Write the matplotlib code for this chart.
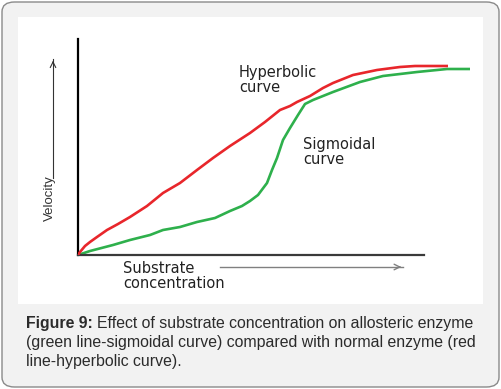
import matplotlib.pyplot as plt
from matplotlib.patches import FancyBboxPatch, Rectangle

# substrate concentration (arbitrary units) and velocity for each curve
hyper_s = [0, 2, 7, 12, 19, 29, 40, 52, 69, 85, 102, 119, 135, 152, 172, 187,
           202, 212, 219, 232, 245, 255, 275, 299, 322, 337, 352, 370]
hyper_v = [0, 3, 9, 13, 18, 25, 31, 38, 49, 62, 72, 85, 97, 109, 122, 133,
           145, 149, 153, 159, 167, 172, 180, 185, 188, 189, 189, 189]

sigm_s = [0, 12, 35, 52, 72, 85, 102, 119, 137, 152, 164, 172, 180, 189, 194,
          199, 205, 212, 220, 227, 235, 255, 282, 305, 339, 369, 392]
sigm_v = [0, 4, 10, 15, 20, 25, 28, 33, 37, 44, 49, 54, 60, 72, 85, 97, 115,
          127, 140, 151, 155, 163, 173, 179, 183, 186, 186]

x_axis_end = 346

W, H = 501, 389
fig = plt.figure(figsize=(W / 100, H / 100), dpi=100)
fig.patch.set_facecolor("white")


def fx(px):
    return px / W


def fy(py):
    return 1 - py / H


# outer rounded frame + white panel (behind the axes)
frame = FancyBboxPatch((fx(2), fy(387)), fx(497), 385 / H,
                       boxstyle="round,pad=0,rounding_size=0.025",
                       transform=fig.transFigure, facecolor="#f2f2f2",
                       edgecolor="#8a8a8a", linewidth=1.0, zorder=-2)
fig.patches.append(frame)
fig.patches.append(Rectangle((fx(18), fy(304)), fx(465), 287 / H,
                             transform=fig.transFigure, facecolor="white",
                             edgecolor="none", zorder=-1))

ax = fig.add_axes([fx(78), fy(255), fx(402), 216 / H])
ax.patch.set_alpha(0)
ax.set_xlim(0, 402)
ax.set_ylim(0, 216)
ax.plot(hyper_s, hyper_v, color="#e8262b", lw=1.9, solid_capstyle="butt", zorder=3)
ax.plot(sigm_s, sigm_v, color="#2eb04c", lw=1.9, solid_capstyle="butt", zorder=2)

for s in ["top", "right"]:
    ax.spines[s].set_visible(False)
ax.spines["left"].set_linewidth(1.6)
ax.spines["left"].set_color("black")
ax.spines["bottom"].set_linewidth(1.6)
ax.spines["bottom"].set_color("#3a3a3a")
ax.spines["bottom"].set_bounds(0, x_axis_end)
ax.set_xticks([])
ax.set_yticks([])

txt = "#222222"
ax.text(161, 175, "Hyperbolic\ncurve", fontsize=10.5, color=txt,
        family="DejaVu Sans", va="center", linespacing=1.05)
ax.text(225, 103, "Sigmoidal\ncurve", fontsize=10.5, color=txt,
        family="DejaVu Sans", va="center", linespacing=1.05)

fig.text(fx(123), fy(276), "Substrate\nconcentration", fontsize=10.5,
         color=txt, family="DejaVu Sans", va="center", linespacing=1.05)
fig.text(fx(50), fy(198), "Velocity", fontsize=9.5, rotation=90, color="#333333",
         family="Liberation Sans", ha="center", va="center")

# axis direction arrows
fig.add_artist(plt.Line2D([fx(53), fx(53)], [fy(178), fy(59)], color="#333333", lw=0.8))
fig.add_artist(plt.Line2D([fx(220), fx(403)], [fy(267), fy(267)], color="#808080", lw=1.0))
ax.annotate("", xy=(fx(53), fy(58)), xytext=(fx(53), fy(66)),
            xycoords="figure fraction", annotation_clip=False,
            arrowprops=dict(arrowstyle="->", color="#333333", lw=0.8))
ax.annotate("", xy=(fx(404), fy(267)), xytext=(fx(396), fy(267)),
            xycoords="figure fraction", annotation_clip=False,
            arrowprops=dict(arrowstyle="->", color="#808080", lw=1.0))

# caption
cap_kw = dict(fontsize=11.4, color="#2b2b2b", family="Liberation Sans", va="baseline")
t0 = fig.text(fx(26), fy(328), "Figure 9:", fontweight="bold", **cap_kw)
fig.canvas.draw()
x1 = t0.get_window_extent().x1
fig.text((x1 + 4) / W, fy(328), "Effect of substrate concentration on allosteric enzyme", **cap_kw)
fig.text(fx(26), fy(347), "(green line-sigmoidal curve) compared with normal enzyme (red", **cap_kw)
fig.text(fx(26), fy(366), "line-hyperbolic curve).", **cap_kw)

fig.savefig("out.png", dpi=100)
